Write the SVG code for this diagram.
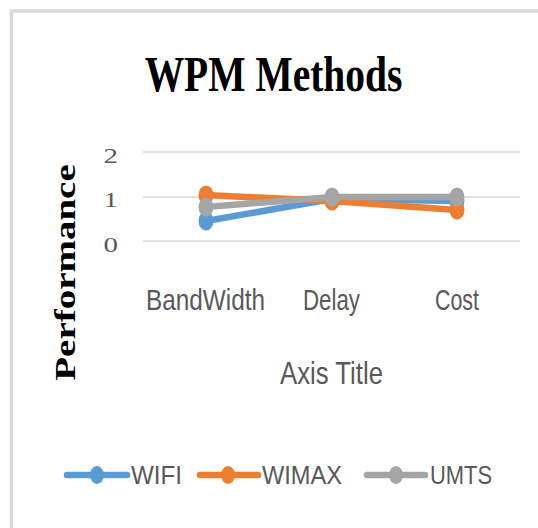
<svg xmlns="http://www.w3.org/2000/svg" width="538" height="528" viewBox="0 0 538 528">
<style>
.lbl{font-family:"Liberation Sans",Arial,sans-serif;fill:#595959}
.num{font-family:"Liberation Serif","Times New Roman",serif;fill:#595959;font-size:20px;text-anchor:end}
.grid{stroke:#d9d9d9;stroke-width:1.5;fill:none}
.ln{fill:none;stroke-width:6.5;stroke-linejoin:round;stroke-linecap:round}
.wifi{stroke:#5B9BD5}.wimax{stroke:#ED7D31}.umts{stroke:#A5A5A5}
.fwifi{fill:#5B9BD5}.fwimax{fill:#ED7D31}.fumts{fill:#A5A5A5}
</style>
<rect width="538" height="528" fill="#ffffff"/>
<path d="M11.5,528 V11 H538" fill="none" stroke="#dadada" stroke-width="3.5"/>
<g id="title">
<text transform="translate(273.5,91) scale(1,1.3)" font-family="Liberation Serif,'Times New Roman',serif" font-weight="bold" font-size="39.5" text-anchor="middle" fill="#000">WPM Methods</text>
</g>
<g id="y-axis-title">
<text transform="translate(75,272.5) rotate(-90) scale(1.3,1)" font-family="Liberation Serif,'Times New Roman',serif" font-weight="bold" font-size="30" text-anchor="middle" fill="#000">Performance</text>
</g>
<g id="gridlines">
<line class="grid" x1="143" y1="152" x2="520" y2="152"/>
<line class="grid" x1="143" y1="197" x2="520" y2="197"/>
<line class="grid" x1="143" y1="241" x2="520" y2="241"/>
</g>
<g id="y-labels">
<text class="num" transform="translate(118,163) scale(1.45,1)">2</text>
<text class="num" transform="translate(118,207) scale(1.45,1)">1</text>
<text class="num" transform="translate(118,251.5) scale(1.45,1)">0</text>
</g>
<g id="x-labels">
<text class="lbl" x="146" y="310" font-size="29" textLength="119" lengthAdjust="spacingAndGlyphs">BandWidth</text>
<text class="lbl" x="303" y="310" font-size="29" textLength="57" lengthAdjust="spacingAndGlyphs">Delay</text>
<text class="lbl" x="435" y="310" font-size="29" textLength="44" lengthAdjust="spacingAndGlyphs">Cost</text>
<text class="lbl" x="280" y="384" font-size="30.5" textLength="103" lengthAdjust="spacingAndGlyphs">Axis Title</text>
</g>
<g id="series">
<g id="wifi">
<polyline class="ln wifi" points="206,221 332,199 457,201"/>
<ellipse class="fwifi" cx="206" cy="221" rx="7.5" ry="9.5"/>
<ellipse class="fwifi" cx="332" cy="199" rx="7.5" ry="9.5"/>
<ellipse class="fwifi" cx="457" cy="201" rx="7.5" ry="9.5"/>
</g>
<g id="wimax">
<polyline class="ln wimax" points="206,195 332,201 457,210"/>
<ellipse class="fwimax" cx="206" cy="195" rx="7.5" ry="9.5"/>
<ellipse class="fwimax" cx="332" cy="201" rx="7.5" ry="9.5"/>
<ellipse class="fwimax" cx="457" cy="210" rx="7.5" ry="9.5"/>
</g>
<g id="umts">
<polyline class="ln umts" points="206,207 332,197 457,197"/>
<ellipse class="fumts" cx="206" cy="207" rx="7.5" ry="9.5"/>
<ellipse class="fumts" cx="332" cy="197" rx="7.5" ry="9.5"/>
<ellipse class="fumts" cx="457" cy="197" rx="7.5" ry="9.5"/>
</g>
</g>
<g id="legend">
<g id="legend-wifi">
<line class="ln wifi" x1="67" y1="475" x2="127" y2="475" stroke-width="5"/>
<ellipse class="fwifi" cx="97" cy="475" rx="7" ry="9"/>
<text class="lbl" x="131" y="484" font-size="26.5" textLength="51" lengthAdjust="spacingAndGlyphs">WIFI</text>
</g>
<g id="legend-wimax">
<line class="ln wimax" x1="200" y1="475" x2="258" y2="475" stroke-width="5"/>
<ellipse class="fwimax" cx="228" cy="475" rx="7" ry="9"/>
<text class="lbl" x="262" y="484" font-size="26.5" textLength="80" lengthAdjust="spacingAndGlyphs">WIMAX</text>
</g>
<g id="legend-umts">
<line class="ln umts" x1="367" y1="475" x2="425" y2="475" stroke-width="5"/>
<ellipse class="fumts" cx="396" cy="475" rx="7" ry="9"/>
<text class="lbl" x="430" y="484" font-size="26.5" textLength="62" lengthAdjust="spacingAndGlyphs">UMTS</text>
</g>
</g>
</svg>
